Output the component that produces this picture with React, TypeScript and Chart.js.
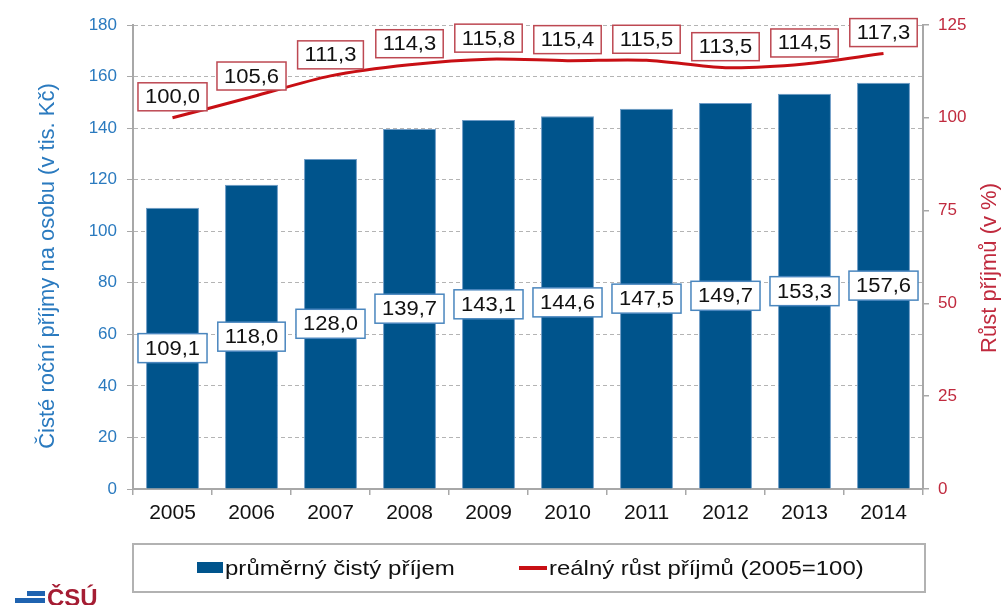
import React, { useEffect, useRef } from "react";
import { Chart, registerables } from "chart.js";

Chart.register(...registerables);

const years = ["2005", "2006", "2007", "2008", "2009", "2010", "2011", "2012", "2013", "2014"];
const incomeValues = [109.1, 118.0, 128.0, 139.7, 143.1, 144.6, 147.5, 149.7, 153.3, 157.6];
const realGrowthValues = [100.0, 105.6, 111.3, 114.3, 115.8, 115.4, 115.5, 113.5, 114.5, 117.3];
const leftAxisMax = 180;
const leftAxisStep = 20;
const rightAxisMax = 125;
const rightAxisStep = 25;

const incomeLabel = "průměrný čistý příjem";
const growthLabel = "reálný růst příjmů (2005=100)";
const leftTitle = "Čisté roční příjmy na osobu (v tis. Kč)";
const rightTitle = "Růst příjmů (v %)";
const logoText = "ČSÚ";

const FONT = "'Liberation Sans', Arial, Helvetica, sans-serif";
const BAR_COLOR = "#00548c";
const BAR_EDGE = "#6d9bc6";
const LINE_COLOR = "#c80f14";
const BAR_LABEL_BORDER = "#4a86be";
const LINE_LABEL_BORDER = "#bd4852";
const LEFT_COLOR = "#2a7abf";
const RIGHT_COLOR = "#c02a3e";
const AXIS_COLOR = "#a8a8a8";

const fmt = (v: number) => v.toFixed(1).replace(".", ",");

const boxLabelsPlugin = {
  id: "boxLabels",
  afterDatasetsDraw(chart: any) {
    const ctx = chart.ctx as CanvasRenderingContext2D;
    chart.data.datasets.forEach((ds: any, di: number) => {
      const meta = chart.getDatasetMeta(di);
      meta.data.forEach((el: any, i: number) => {
        const text = fmt(ds.data[i]);
        const isBar = ds.type === "bar";
        const cx = el.x;
        const cy = isBar ? (el.y + el.base) / 2 : el.y - 21;
        const h = isBar ? 29 : 28;
        const sx = 1.1;
        ctx.save();
        ctx.font = `20px ${FONT}`;
        const tw = ctx.measureText(text).width * sx;
        const w = tw + 14;
        ctx.fillStyle = "#ffffff";
        ctx.fillRect(cx - w / 2, cy - h / 2, w, h);
        ctx.strokeStyle = isBar ? BAR_LABEL_BORDER : LINE_LABEL_BORDER;
        ctx.lineWidth = 1.5;
        ctx.strokeRect(cx - w / 2, cy - h / 2, w, h);
        ctx.translate(cx, cy);
        ctx.scale(sx, 1);
        ctx.fillStyle = "#111111";
        ctx.textAlign = "center";
        ctx.textBaseline = "middle";
        ctx.fillText(text, 0, 1);
        ctx.restore();
      });
    });
  },
};

const axisTitlesPlugin = {
  id: "axisTitles",
  afterDraw(chart: any) {
    const ctx = chart.ctx as CanvasRenderingContext2D;
    const area = chart.chartArea;
    const midY = (area.top + area.bottom) / 2 + 9;
    ctx.save();
    ctx.textAlign = "center";
    ctx.textBaseline = "middle";
    ctx.font = `22px ${FONT}`;
    ctx.fillStyle = LEFT_COLOR;
    ctx.translate(area.left - 85, midY);
    ctx.rotate(-Math.PI / 2);
    ctx.fillText(leftTitle, 0, 0);
    ctx.restore();

    ctx.save();
    ctx.textAlign = "center";
    ctx.textBaseline = "middle";
    ctx.font = `22px ${FONT}`;
    ctx.fillStyle = RIGHT_COLOR;
    ctx.translate(area.right + 67, midY + 2);
    ctx.rotate(-Math.PI / 2);
    ctx.fillText(rightTitle, 0, 0);
    ctx.restore();
  },
};

export default function App() {
  const ref = useRef<HTMLCanvasElement | null>(null);

  useEffect(() => {
    if (!ref.current) return;
    const chart = new Chart(ref.current, {
      type: "bar",
      data: {
        labels: years,
        datasets: [
          {
            type: "line" as const,
            label: growthLabel,
            data: realGrowthValues,
            yAxisID: "y1",
            borderColor: LINE_COLOR,
            backgroundColor: LINE_COLOR,
            borderWidth: 3,
            pointRadius: 0,
            tension: 0.3,
            order: 0,
          },
          {
            type: "bar" as const,
            label: incomeLabel,
            data: incomeValues,
            yAxisID: "y",
            backgroundColor: BAR_COLOR,
            borderColor: BAR_EDGE,
            borderWidth: 1,
            categoryPercentage: 1,
            barPercentage: 0.67,
            order: 1,
          },
        ],
      },
      options: {
        responsive: false,
        animation: false,
        layout: { padding: { top: 25, left: 0, right: 0, bottom: 0 } },
        plugins: {
          legend: { display: false },
          tooltip: { enabled: false },
          title: { display: false },
        },
        scales: {
          x: {
            offset: true,
            grid: {
              offset: true,
              drawOnChartArea: false,
              drawTicks: true,
              tickLength: 6,
              color: AXIS_COLOR,
              lineWidth: 1.5,
            },
            border: { display: true, color: AXIS_COLOR, width: 2 },
            ticks: {
              color: "#111111",
              font: { family: FONT, size: 21 },
              padding: 6,
            },
            afterFit: (s: any) => {
              s.height = 116;
            },
          },
          y: {
            position: "left",
            min: 0,
            max: leftAxisMax,
            ticks: {
              stepSize: leftAxisStep,
              color: LEFT_COLOR,
              font: { family: FONT, size: 17 },
              padding: 10,
            },
            grid: {
              color: "#b4b4b4",
              lineWidth: 1,
              tickLength: 6,
              tickColor: AXIS_COLOR,
              tickBorderDash: [],
            },
            border: { display: true, color: AXIS_COLOR, width: 2, dash: [4, 3] },
            afterFit: (s: any) => {
              s.width = 133;
            },
          },
          y1: {
            position: "right",
            min: 0,
            max: rightAxisMax,
            ticks: {
              stepSize: rightAxisStep,
              color: RIGHT_COLOR,
              font: { family: FONT, size: 17 },
              padding: 9,
            },
            grid: {
              drawOnChartArea: false,
              tickLength: 6,
              color: AXIS_COLOR,
              lineWidth: 1.5,
            },
            border: { display: true, color: AXIS_COLOR, width: 2 },
            afterFit: (s: any) => {
              s.width = 83;
            },
          },
        },
      },
      plugins: [boxLabelsPlugin, axisTitlesPlugin],
    } as any);
    return () => chart.destroy();
  }, []);

  return (
    <div
      style={{
        position: "fixed",
        left: 0,
        top: 0,
        width: 1006,
        height: 605,
        overflow: "hidden",
        background: "#ffffff",
        fontFamily: FONT,
      }}
    >
      <canvas ref={ref} width={1006} height={605} style={{ position: "absolute", left: 0, top: 0 }} />
      <div
        style={{
          position: "absolute",
          left: 132,
          top: 543,
          width: 794,
          height: 50,
          boxSizing: "border-box",
          border: "2px solid #b2b2b2",
        }}
      />
      <div style={{ position: "absolute", left: 197, top: 562, width: 26, height: 11, background: BAR_COLOR }} />
      <div
        style={{
          position: "absolute",
          left: 225,
          top: 555,
          fontSize: 21,
          lineHeight: "26px",
          color: "#111",
          whiteSpace: "nowrap",
          transform: "scaleX(1.145)",
          transformOrigin: "left center",
        }}
      >
        {incomeLabel}
      </div>
      <div style={{ position: "absolute", left: 519, top: 566, width: 28, height: 4, background: LINE_COLOR }} />
      <div
        style={{
          position: "absolute",
          left: 549,
          top: 555,
          fontSize: 21,
          lineHeight: "26px",
          color: "#111",
          whiteSpace: "nowrap",
          transform: "scaleX(1.14)",
          transformOrigin: "left center",
        }}
      >
        {growthLabel}
      </div>
      <div style={{ position: "absolute", left: 27, top: 591, width: 18, height: 5, background: "#1f63b0" }} />
      <div style={{ position: "absolute", left: 15, top: 598, width: 30, height: 5, background: "#1f63b0" }} />
      <div
        style={{
          position: "absolute",
          left: 47,
          top: 584,
          fontSize: 24,
          fontWeight: "bold",
          lineHeight: "28px",
          color: "#a51d33",
          whiteSpace: "nowrap",
        }}
      >
        {logoText}
      </div>
    </div>
  );
}
